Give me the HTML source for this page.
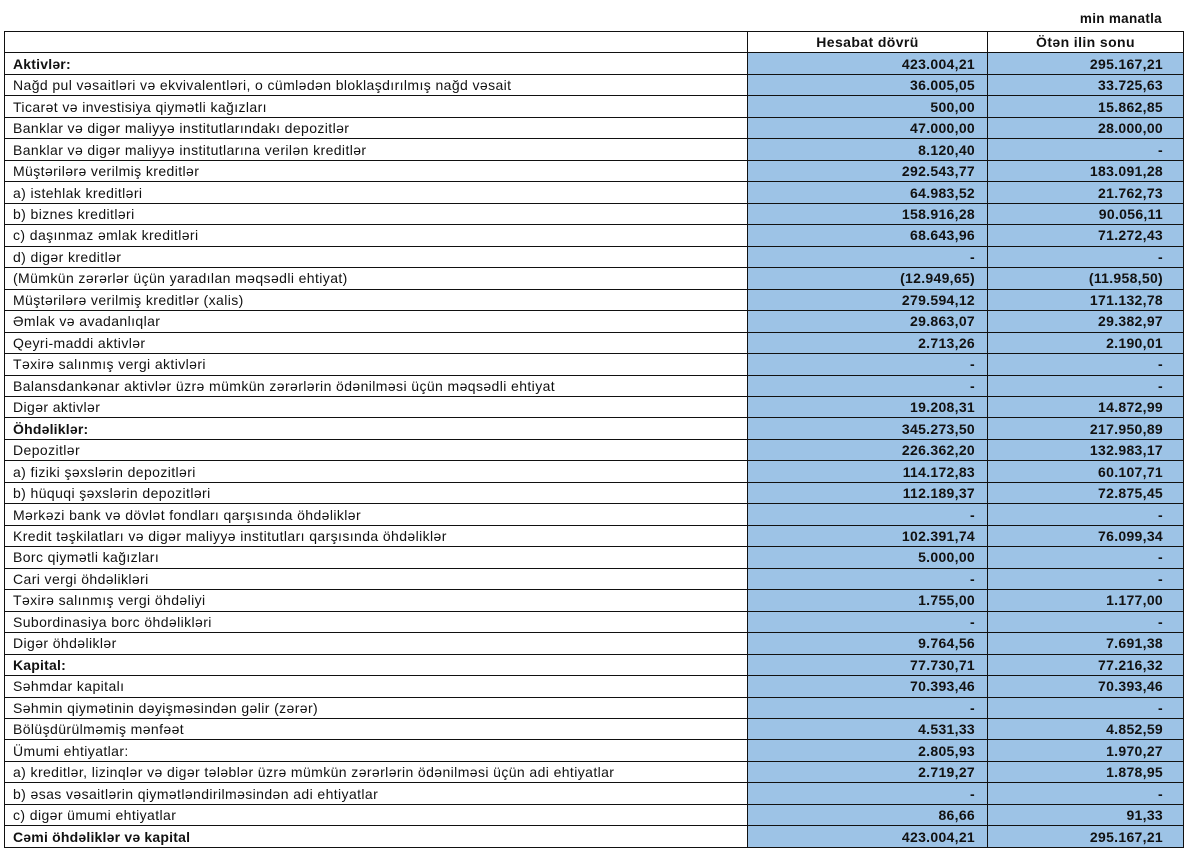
<!DOCTYPE html>
<html><head><meta charset="utf-8"><style>
body{margin:0;width:1192px;height:850px;background:#fff;position:relative;overflow:hidden;font-family:"Liberation Sans","DejaVu Sans",sans-serif;}
.unit{position:absolute;right:30px;top:11px;font-size:13.5px;font-weight:bold;color:#111;letter-spacing:0.3px;}
table{position:absolute;left:4px;top:31px;border-collapse:collapse;table-layout:fixed;width:1179px;}
td{box-sizing:border-box;border:1px solid #111;height:21.47px;padding:0 8px;font-size:14px;letter-spacing:0.4px;color:#111;white-space:nowrap;overflow:hidden;line-height:20px;}
td.v{background:#9dc3e6;text-align:right;font-weight:bold;padding-right:12px;letter-spacing:0.3px;}
td.w{background:#9dc3e6;text-align:right;font-weight:bold;padding-right:20px;letter-spacing:0.3px;}
tr.h td{background:#fff;text-align:center;font-weight:bold;padding:0;}
tr.b td.l{font-weight:bold;letter-spacing:0.2px;}
</style></head><body>
<div class="unit">min manatla</div>
<table>
<colgroup><col style="width:743px"><col style="width:240px"><col style="width:196px"></colgroup>
<tr class="h"><td class="l"></td><td>Hesabat dövrü</td><td>Ötən ilin sonu</td></tr>
<tr class="b"><td class="l">Aktivlər:</td><td class="v">423.004,21</td><td class="w">295.167,21</td></tr>
<tr><td class="l">Nağd pul vəsaitləri və  ekvivalentləri, o cümlədən bloklaşdırılmış nağd vəsait</td><td class="v">36.005,05</td><td class="w">33.725,63</td></tr>
<tr><td class="l">Ticarət və investisiya qiymətli kağızları</td><td class="v">500,00</td><td class="w">15.862,85</td></tr>
<tr><td class="l">Banklar və digər maliyyə institutlarındakı depozitlər</td><td class="v">47.000,00</td><td class="w">28.000,00</td></tr>
<tr><td class="l">Banklar və digər maliyyə institutlarına verilən kreditlər</td><td class="v">8.120,40</td><td class="w">-</td></tr>
<tr><td class="l">Müştərilərə verilmiş kreditlər</td><td class="v">292.543,77</td><td class="w">183.091,28</td></tr>
<tr><td class="l">a) istehlak kreditləri</td><td class="v">64.983,52</td><td class="w">21.762,73</td></tr>
<tr><td class="l">b) biznes kreditləri</td><td class="v">158.916,28</td><td class="w">90.056,11</td></tr>
<tr><td class="l">c) daşınmaz əmlak kreditləri</td><td class="v">68.643,96</td><td class="w">71.272,43</td></tr>
<tr><td class="l">d) digər kreditlər</td><td class="v">-</td><td class="w">-</td></tr>
<tr><td class="l">(Mümkün zərərlər üçün yaradılan məqsədli ehtiyat)</td><td class="v">(12.949,65)</td><td class="w">(11.958,50)</td></tr>
<tr><td class="l">Müştərilərə verilmiş kreditlər (xalis)</td><td class="v">279.594,12</td><td class="w">171.132,78</td></tr>
<tr><td class="l">Əmlak və avadanlıqlar</td><td class="v">29.863,07</td><td class="w">29.382,97</td></tr>
<tr><td class="l">Qeyri-maddi aktivlər</td><td class="v">2.713,26</td><td class="w">2.190,01</td></tr>
<tr><td class="l">Təxirə salınmış vergi aktivləri</td><td class="v">-</td><td class="w">-</td></tr>
<tr><td class="l">Balansdankənar aktivlər üzrə mümkün zərərlərin ödənilməsi üçün məqsədli ehtiyat</td><td class="v">-</td><td class="w">-</td></tr>
<tr><td class="l">Digər aktivlər</td><td class="v">19.208,31</td><td class="w">14.872,99</td></tr>
<tr class="b"><td class="l">Öhdəliklər:</td><td class="v">345.273,50</td><td class="w">217.950,89</td></tr>
<tr><td class="l">Depozitlər</td><td class="v">226.362,20</td><td class="w">132.983,17</td></tr>
<tr><td class="l">a) fiziki şəxslərin depozitləri</td><td class="v">114.172,83</td><td class="w">60.107,71</td></tr>
<tr><td class="l">b) hüquqi şəxslərin depozitləri</td><td class="v">112.189,37</td><td class="w">72.875,45</td></tr>
<tr><td class="l">Mərkəzi bank və dövlət fondları qarşısında öhdəliklər</td><td class="v">-</td><td class="w">-</td></tr>
<tr><td class="l">Kredit təşkilatları və digər maliyyə institutları qarşısında öhdəliklər</td><td class="v">102.391,74</td><td class="w">76.099,34</td></tr>
<tr><td class="l">Borc qiymətli kağızları</td><td class="v">5.000,00</td><td class="w">-</td></tr>
<tr><td class="l">Cari vergi öhdəlikləri</td><td class="v">-</td><td class="w">-</td></tr>
<tr><td class="l">Təxirə salınmış vergi öhdəliyi</td><td class="v">1.755,00</td><td class="w">1.177,00</td></tr>
<tr><td class="l">Subordinasiya borc öhdəlikləri</td><td class="v">-</td><td class="w">-</td></tr>
<tr><td class="l">Digər öhdəliklər</td><td class="v">9.764,56</td><td class="w">7.691,38</td></tr>
<tr class="b"><td class="l">Kapital:</td><td class="v">77.730,71</td><td class="w">77.216,32</td></tr>
<tr><td class="l">Səhmdar kapitalı</td><td class="v">70.393,46</td><td class="w">70.393,46</td></tr>
<tr><td class="l">Səhmin qiymətinin dəyişməsindən gəlir (zərər)</td><td class="v">-</td><td class="w">-</td></tr>
<tr><td class="l">Bölüşdürülməmiş mənfəət</td><td class="v">4.531,33</td><td class="w">4.852,59</td></tr>
<tr><td class="l">Ümumi ehtiyatlar:</td><td class="v">2.805,93</td><td class="w">1.970,27</td></tr>
<tr><td class="l">a) kreditlər, lizinqlər və digər tələblər üzrə mümkün zərərlərin ödənilməsi üçün adi ehtiyatlar</td><td class="v">2.719,27</td><td class="w">1.878,95</td></tr>
<tr><td class="l">b) əsas vəsaitlərin qiymətləndirilməsindən adi ehtiyatlar</td><td class="v">-</td><td class="w">-</td></tr>
<tr><td class="l">c) digər ümumi ehtiyatlar</td><td class="v">86,66</td><td class="w">91,33</td></tr>
<tr class="b"><td class="l">Cəmi öhdəliklər və kapital</td><td class="v">423.004,21</td><td class="w">295.167,21</td></tr>
</table>
</body></html>
